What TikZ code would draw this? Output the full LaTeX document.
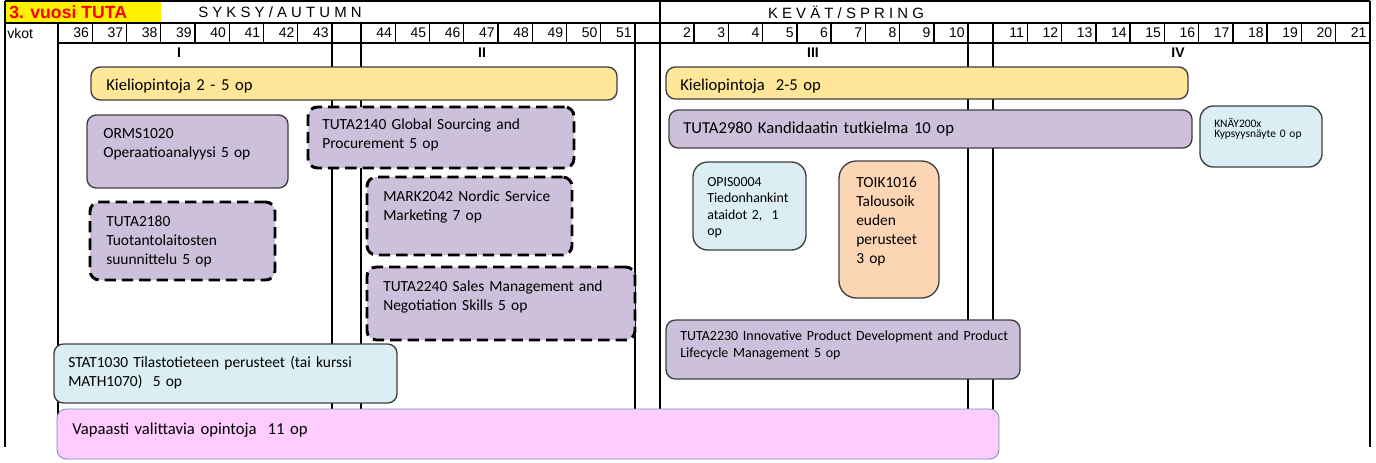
\documentclass[tikz,border=0pt]{standalone}
\usepackage{fontspec}
\setmainfont{Carlito}
\newfontfamily\arialfont{Liberation Sans}
\usetikzlibrary{fit}
\definecolor{kieli}{HTML}{FFE699}
\definecolor{lila}{HTML}{CCC0DA}
\definecolor{vaalsin}{HTML}{DAEEF3}
\definecolor{oranssi}{HTML}{FCD5B4}
\definecolor{pinkki}{HTML}{FFCCFF}
\definecolor{pinkreuna}{HTML}{6F8FB8}
\definecolor{reuna}{HTML}{3F3F3F}
\begin{document}
\begin{tikzpicture}[x=0.75pt, y=-0.75pt,
    tableline/.style={line width=1.1pt},
    course/.style={draw=reuna, line width=1pt, rounded corners=7pt, inner sep=0pt},
    optional/.style={course, draw=black, line width=2.2pt, dash pattern=on 8.5pt off 4.5pt},
    txt/.style={anchor=base west, inner sep=0pt, align=left, text width=10cm, font=\fontsize{11.6}{14.25}\selectfont},
    bigtxt/.style={txt, font=\fontsize{12.5}{15}\selectfont},
    wk/.style={anchor=east, inner sep=0pt, font=\arialfont\fontsize{10.5}{12}\selectfont},
    periodlbl/.style={inner sep=0pt, font=\arialfont\bfseries\fontsize{10.5}{12}\selectfont}]
  \useasboundingbox (0,0) rectangle (1376,462);

  % header
  \fill[yellow] (5,1) rectangle (161,23);
  \node[anchor=west, inner sep=0pt, text=red, font=\arialfont\bfseries\fontsize{13.2}{15}\selectfont] (title) at (9,12) {3. vuosi TUTA};
  \node[inner sep=0pt, font=\arialfont\fontsize{11.2}{13}\selectfont] (syksy) at (280,12) {S Y K S Y / A U T U M N};
  \node[inner sep=0pt, font=\arialfont\fontsize{11.2}{13}\selectfont] (kevat) at (846,12) {K E V Ä T / S P R I N G};
  \node[wk, anchor=west] (vkot) at (7,33) {vkot};

  \draw[tableline] (5,1) -- (1370,1);
  \draw[tableline] (5,23) -- (1370,23);
  \draw[tableline] (58,43) -- (1370,43);
  \foreach \x in {5,660,1370}
    \draw[tableline] (\x,1) -- (\x,447);
  \foreach \x in {58,332,361,635,968,993}
    \draw[tableline] (\x,23) -- (\x,447);

  % weeks
  \foreach \w [count=\i] in {36,...,43} {
    \node[wk] (w\w) at ({58+34.25*\i-3},33) {\w};
    \draw[tableline] ({58+34.25*\i},23) -- ++(0,20);
  }
  \foreach \w [count=\i] in {44,...,51} {
    \node[wk] (w\w) at ({361+34.25*\i-3},33) {\w};
    \draw[tableline] ({361+34.25*\i},23) -- ++(0,20);
  }
  \foreach \w [count=\i] in {2,...,10} {
    \node[wk] (w\w) at ({660+34.22*\i-3},33) {\w};
    \draw[tableline] ({660+34.22*\i},23) -- ++(0,20);
  }
  \foreach \w [count=\i] in {11,...,21} {
    \node[wk] (w\w) at ({993+34.25*\i-3},33) {\w};
    \draw[tableline] ({993+34.25*\i},23) -- ++(0,20);
  }

  \node[periodlbl] (p1) at (179,53) {I};
  \node[periodlbl] (p2) at (482,53) {II};
  \node[periodlbl] (p3) at (813,53) {III};
  \node[periodlbl] (p4) at (1178,53) {IV};

  % autumn
  \node[course, fill=kieli, fit={(91,67) (617,100)}] (kieli1) {};
  \node[bigtxt] (kieli1t) at (106,90) {Kieliopintoja 2 - 5 op};
  \node[course, fill=lila, fit={(87,115) (288,188)}] (orms) {};
  \node[txt] (ormst) at (103,138.5) {ORMS1020\\Operaatioanalyysi 5 op};
  \node[optional, fill=lila, fit={(308,107) (574,168)}] (tuta2140) {};
  \node[txt] (tuta2140t) at (322,129.5) {TUTA2140 Global Sourcing and\\Procurement 5 op};
  \node[optional, fill=lila, fit={(90,202) (275,280)}] (tuta2180) {};
  \node[txt] (tuta2180t) at (106,226.5) {TUTA2180\\Tuotantolaitosten\\suunnittelu 5 op};
  \node[optional, fill=lila, fit={(367,177) (572,255)}] (mark2042) {};
  \node[txt] (mark2042t) at (383,201.5) {MARK2042 Nordic Service\\Marketing 7 op};
  \node[optional, fill=lila, fit={(367,267) (635,340)}] (tuta2240) {};
  \node[txt] (tuta2240t) at (383,291.5) {TUTA2240 Sales Management and\\Negotiation Skills 5 op};
  \node[course, fill=vaalsin, fit={(54,344) (397,403)}] (stat1030) {};
  \node[txt] (stat1030t) at (68,367.5) {STAT1030 Tilastotieteen perusteet (tai kurssi\\MATH1070)~ 5 op};
  \node[course, draw=pinkreuna, line width=0.6pt, fill=pinkki, fit={(57,409) (999,459)}] (vapaa) {};
  \node[bigtxt] (vapaat) at (72,434) {Vapaasti valittavia opintoja~ 11 op};

  % spring
  \node[course, fill=kieli, fit={(666,67) (1188,99)}] (kieli2) {};
  \node[bigtxt] (kieli2t) at (680,90) {Kieliopintoja~ 2-5 op};
  \node[course, fill=lila, fit={(669,110) (1192,148)}] (tuta2980) {};
  \node[bigtxt] (tuta2980t) at (683,133) {TUTA2980 Kandidaatin tutkielma 10 op};
  \node[course, fill=vaalsin, rounded corners=10pt, fit={(1200,106) (1322,167)}] (knay) {};
  \node[txt, font=\fontsize{8.6}{8}\selectfont] (knayt) at (1214,127) {KNÄY200x\\Kypsyysnäyte 0 op};
  \node[course, fill=vaalsin, rounded corners=11pt, fit={(693,162) (806,250)}] (opis) {};
  \node[txt, font=\fontsize{10.4}{12.2}\selectfont] (opist) at (707,186.5) {OPIS0004\\Tiedonhankint\\ataidot 2,~ 1\\op};
  \node[course, fill=oranssi, rounded corners=13pt, fit={(839,161) (939,298)}] (toik) {};
  \node[txt] (toikt) at (856,187) {TOIK1016\\Talousoik\\euden\\perusteet\\3 op};
  \node[course, fill=lila, fit={(666,320) (1020,379)}] (tuta2230) {};
  \node[txt, font=\fontsize{10.5}{12.75}\selectfont] (tuta2230t) at (680,340) {TUTA2230 Innovative Product Development and Product\\Lifecycle Management 5 op};
\end{tikzpicture}
\end{document}
